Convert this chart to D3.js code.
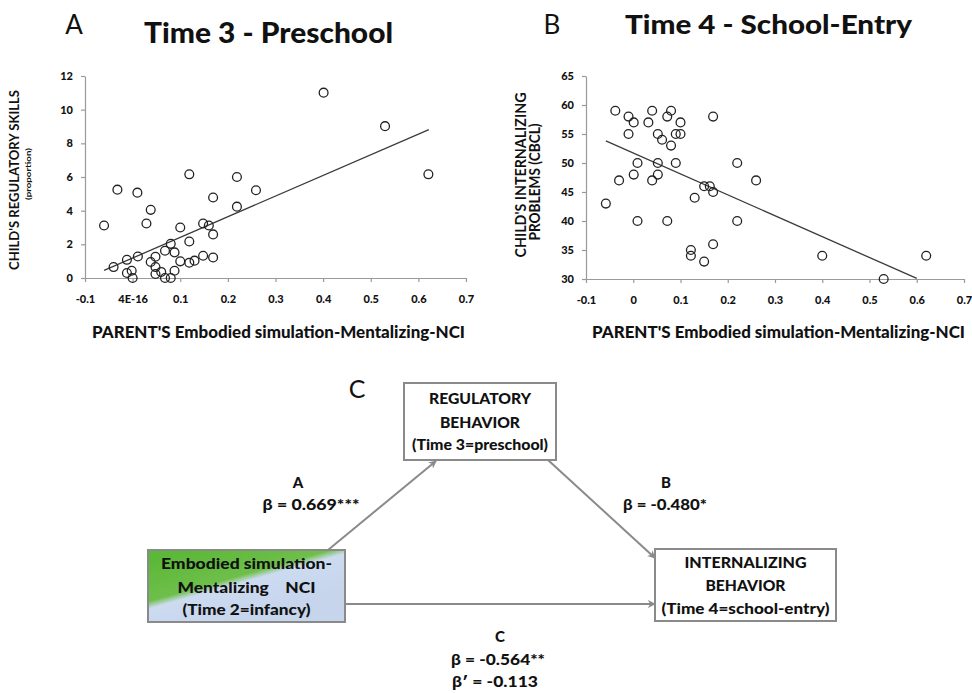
<!DOCTYPE html>
<html>
<head>
<meta charset="utf-8">
<script src="https://cdn.jsdelivr.net/npm/d3@7"></script>
<style>
body { margin: 0; background: #fff; }
text { font-family: Lato, "Open Sans", sans-serif; fill: #111; }
</style>
</head>
<body>
<div id="chart"></div>
<script>
// Panel A - Time 3 preschool (NCI vs regulatory skills)
const aX = [-0.06, -0.04, -0.032, -0.012, -0.012, -0.002, 0, 0.01, 0.011, 0.029,
            0.038, 0.038, 0.048, 0.048, 0.048, 0.06, 0.068, 0.068, 0.08, 0.08,
            0.088, 0.088, 0.1, 0.1, 0.119, 0.119, 0.119, 0.13, 0.148, 0.148,
            0.16, 0.169, 0.169, 0.169, 0.219, 0.219, 0.259, 0.401, 0.53, 0.621];
const aY = [3.12, 0.65, 5.25, 1.08, 0.3, 0.43, 0, 5.07, 1.28, 3.24,
            4.05, 0.95, 1.26, 0.65, 0.24, 0.36, 1.62, 0, 2.03, 0,
            1.52, 0.43, 3.0, 0.99, 6.16, 2.17, 0.91, 1.03, 3.24, 1.32,
            3.12, 4.78, 2.59, 1.22, 6.0, 4.24, 5.21, 11.01, 9.02, 6.16];
const trendAX = [-0.06, 0.622];
const trendAY = [0.45, 8.82];
const xTicksA = [-0.1, 0, 0.1, 0.2, 0.3, 0.4, 0.5, 0.6, 0.7];
const xLabelsA = ["-0.1", "4E-16", "0.1", "0.2", "0.3", "0.4", "0.5", "0.6", "0.7"];
const yTicksA = [0, 2, 4, 6, 8, 10, 12];

// Panel B - Time 4 school entry (NCI vs internalizing problems)
const bX = [-0.058, -0.038, -0.03, -0.01, -0.01, 0.001, 0.001, 0.009, 0.009, 0.032,
            0.04, 0.04, 0.052, 0.052, 0.052, 0.061, 0.072, 0.072, 0.08, 0.08,
            0.09, 0.09, 0.1, 0.1, 0.122, 0.122, 0.13, 0.15, 0.15, 0.162,
            0.169, 0.169, 0.169, 0.22, 0.22, 0.26, 0.4, 0.53, 0.62];
const bY = [43, 59, 47, 58, 55, 57, 48, 50, 40, 57,
            59, 47, 55, 50, 48, 54, 58, 40, 59, 53,
            55, 50, 57, 55, 35, 34, 44, 46, 33, 46,
            58, 45, 36, 50, 40, 47, 34, 30, 34];
const trendBX = [-0.058, 0.6];
const trendBY = [53.8, 30.1];
const xTicksB = [-0.1, 0, 0.1, 0.2, 0.3, 0.4, 0.5, 0.6, 0.7];
const xLabelsB = ["-0.1", "0", "0.1", "0.2", "0.3", "0.4", "0.5", "0.6", "0.7"];
const yTicksB = [30, 35, 40, 45, 50, 55, 60, 65];

// Panel C - mediation model
const pathLabels = ["A", "B", "C"];
const pathBetas = ["β = 0.669***", "β = -0.480*", "β = -0.564**"];
const pathBetaPrime = "β′ = -0.113";

const W = 972, H = 693;
const svg = d3.select("#chart").append("svg")
    .attr("width", W)
    .attr("height", H);

function scatter(cfg) {
    const x = d3.scaleLinear().domain(cfg.xDomain).range(cfg.xRange);
    const y = d3.scaleLinear().domain(cfg.yDomain).range(cfg.yRange);
    const g = svg.append("g");

    // axes
    const xAxis = g.append("g")
        .attr("transform", `translate(0,${cfg.yRange[0]})`)
        .call(d3.axisBottom(x).tickValues(cfg.xTicks)
            .tickFormat((d, i) => cfg.xLabels[i])
            .tickSize(4).tickSizeOuter(0).tickPadding(17));
    const yAxis = g.append("g")
        .attr("transform", `translate(${cfg.xRange[0]},0)`)
        .call(d3.axisLeft(y).tickValues(cfg.yTicks)
            .tickSize(4).tickSizeOuter(0).tickPadding(8));
    g.selectAll(".domain, .tick line").attr("stroke", "#9a9a9a").attr("stroke-width", 1.2);
    g.selectAll(".tick text")
        .style("font-size", "11px")
        .style("font-weight", "900")
        .attr("fill", "#111");
    xAxis.selectAll(".tick text").attr("dy", "0.35em");

    // trend line
    g.append("line")
        .attr("x1", x(cfg.trendX[0])).attr("y1", y(cfg.trendY[0]))
        .attr("x2", x(cfg.trendX[1])).attr("y2", y(cfg.trendY[1]))
        .attr("stroke", "#3a3a3a")
        .attr("stroke-width", 1.3);

    // points
    g.selectAll("circle")
        .data(d3.zip(cfg.xs, cfg.ys))
        .join("circle")
        .attr("cx", d => x(d[0]))
        .attr("cy", d => y(d[1]))
        .attr("r", 4.4)
        .attr("fill", "none")
        .attr("stroke", "#222")
        .attr("stroke-width", 1.3);
    return g;
}

function label(g, txt, x, y, opt) {
    const t = g.append("text")
        .attr("text-anchor", "middle")
        .style("font-size", opt.size + "px")
        .style("font-weight", opt.weight || "bold")
        .text(txt);
    if (opt.rotate) {
        t.attr("transform", `translate(${x},${y}) rotate(-90)`).attr("dy", "0.35em");
    } else {
        t.attr("x", x).attr("y", y);
        if (opt.center) t.attr("dy", "0.35em");
    }
    if (opt.len) t.attr("textLength", opt.len).attr("lengthAdjust", "spacingAndGlyphs");
    return t;
}

const gA = scatter({
    xs: aX, ys: aY, trendX: trendAX, trendY: trendAY,
    xDomain: [-0.1, 0.7], yDomain: [0, 12],
    xRange: [85, 466], yRange: [278, 76],
    xTicks: xTicksA, xLabels: xLabelsA, yTicks: yTicksA
});
const gB = scatter({
    xs: bX, ys: bY, trendX: trendBX, trendY: trendBY,
    xDomain: [-0.1, 0.7], yDomain: [30, 65],
    xRange: [586, 964], yRange: [279, 76],
    xTicks: xTicksB, xLabels: xLabelsB, yTicks: yTicksB
});

// titles
label(svg, "A", 74, 34, {size: 26, weight: "normal"});
label(svg, "Time 3 - Preschool", 268.5, 43, {size: 28, weight: "900", len: 249});
label(svg, "B", 552, 34, {size: 26, weight: "normal"});
label(svg, "Time 4 - School-Entry", 768.5, 34, {size: 27, weight: "900", len: 287});

// axis titles
label(svg, "CHILD'S REGULATORY SKILLS", 14, 180, {size: 14, rotate: true, len: 180});
label(svg, "(proportion)", 28, 174, {size: 8, rotate: true, len: 52});
label(svg, "CHILD'S INTERNALIZING", 521, 175, {size: 15, rotate: true, len: 165});
label(svg, "PROBLEMS (CBCL)", 535, 182, {size: 15, rotate: true, len: 117});
label(svg, "PARENT'S Embodied simulation-Mentalizing-NCI", 278.5, 332, {size: 17, weight: "900", center: true, len: 373});
label(svg, "PARENT'S Embodied simulation-Mentalizing-NCI", 778.5, 332, {size: 17, weight: "900", center: true, len: 373});

// ---- Panel C diagram ----
const gC = svg.append("g");
const defs = svg.append("defs");
defs.append("marker")
    .attr("id", "arrow")
    .attr("viewBox", "0 0 10 10")
    .attr("refX", 9).attr("refY", 5)
    .attr("markerWidth", 8).attr("markerHeight", 8)
    .attr("markerUnits", "userSpaceOnUse")
    .attr("orient", "auto")
    .append("path")
    .attr("d", "M0,0 L10,5 L0,10 L3,5 z")
    .attr("fill", "#8a8a8a");
const grad = defs.append("linearGradient")
    .attr("id", "ncigrad")
    .attr("gradientUnits", "userSpaceOnUse")
    .attr("x1", 233).attr("y1", 538).attr("x2", 255).attr("y2", 616);
grad.append("stop").attr("offset", 0).attr("stop-color", "#5cb838");
grad.append("stop").attr("offset", 0.47).attr("stop-color", "#6ebf4a");
grad.append("stop").attr("offset", 0.56).attr("stop-color", "#cddbf1");
grad.append("stop").attr("offset", 1).attr("stop-color", "#c6d5ec");

label(gC, "C", 357, 398, {size: 25, weight: "normal"});

// arrows
const arrows = [
    [328, 550, 436, 461],
    [548, 460, 655, 558],
    [345, 604, 655, 604]
];
gC.selectAll("line.arrow")
    .data(arrows)
    .join("line")
    .attr("class", "arrow")
    .attr("x1", d => d[0]).attr("y1", d => d[1])
    .attr("x2", d => d[2]).attr("y2", d => d[3])
    .attr("stroke", "#8a8a8a")
    .attr("stroke-width", 2)
    .attr("marker-end", "url(#arrow)");

// boxes
const boxes = [
    {x: 404, y: 383, w: 152, h: 77, fill: "#fff",
     lines: ["REGULATORY", "BEHAVIOR", "(Time 3=preschool)"], ys: [399, 423, 445], lens: [102, 80, 136]},
    {x: 148, y: 550, w: 197, h: 72, fill: "url(#ncigrad)",
     lines: ["Embodied simulation-", "Mentalizing    NCI", "(Time 2=infancy)"], ys: [564, 588, 610], lens: [171, 138, 128]},
    {x: 655, y: 549, w: 181, h: 72, fill: "#fff",
     lines: ["INTERNALIZING", "BEHAVIOR", "(Time 4=school-entry)"], ys: [563, 586, 609], lens: [122, 80, 168]}
];
boxes.forEach(b => {
    gC.append("rect")
        .attr("x", b.x).attr("y", b.y)
        .attr("width", b.w).attr("height", b.h)
        .attr("fill", b.fill)
        .attr("stroke", "#8a8a8a")
        .attr("stroke-width", 2);
    b.lines.forEach((l, i) => {
        label(gC, l, b.x + b.w / 2, b.ys[i], {size: 15, weight: "900", center: true, len: b.lens[i]})
            .style("white-space", "pre");
    });
});

// path coefficients
label(gC, pathLabels[0], 298, 483, {size: 15, weight: "900", center: true});
label(gC, pathBetas[0], 311, 505, {size: 15, weight: "900", center: true, len: 97});
label(gC, pathLabels[1], 666, 483, {size: 15, weight: "900", center: true});
label(gC, pathBetas[1], 665, 505, {size: 15, weight: "900", center: true, len: 84});
label(gC, pathLabels[2], 500, 637, {size: 15, weight: "900", center: true});
label(gC, pathBetas[2], 498, 660, {size: 15, weight: "900", center: true, len: 94});
label(gC, pathBetaPrime, 495, 682, {size: 15, weight: "900", center: true, len: 86});
</script>
</body>
</html>
